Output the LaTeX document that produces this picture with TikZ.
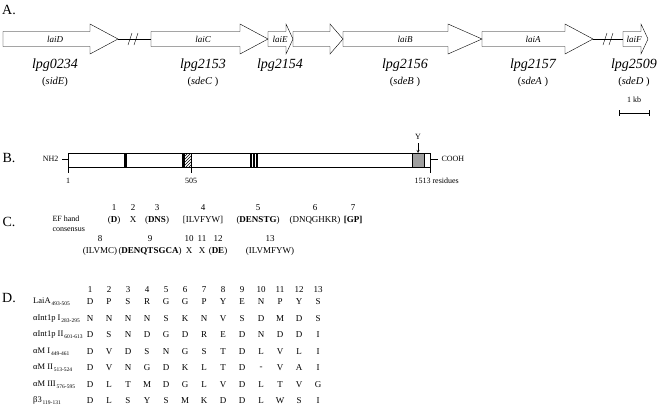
\documentclass[tikz,border=0pt]{standalone}
\usepackage{fontspec}
\setmainfont{Liberation Serif}
\usetikzlibrary{patterns}
\newcommand{\rng}[1]{\raisebox{-0.5ex}{\fontsize{5.5}{5.5}\selectfont\,#1}}
\tikzset{
  panel/.style={font=\fontsize{14}{14}\selectfont},
  genename/.style={font=\fontsize{9}{9}\selectfont\itshape, inner sep=0pt},
  locus/.style={font=\fontsize{14}{14}\selectfont\itshape},
  aliasname/.style={font=\fontsize{10.5}{10.5}\selectfont},
  smalltext/.style={font=\fontsize{8}{8}\selectfont},
  cons/.style={font=\fontsize{9}{9}\selectfont, inner sep=0pt},
  res/.style={font=\fontsize{9}{9}\selectfont, inner sep=0pt},
}
\begin{document}
\begin{tikzpicture}[x=1pt, y=-1pt, >=stealth]
    \useasboundingbox (0,0) rectangle (658,413);
    % A. gene map
    \node[panel] (pa) at (9,10) {A.};
    \foreach \a/\h/\b in {3/90/118, 151/240/268, 268/286/293, 293/330/343, 343/448/482, 482/565/593, 623/641/648}
        \draw (\a,31.5) -- (\h,31.5) -- (\h,24) -- (\b,39) -- (\h,54) -- (\h,46.5) -- (\a,46.5) -- cycle;
    \draw (118,39) -- (151,39);
    \draw (128,45) -- (132,33) (134,45) -- (138,33);
    \draw (593,39) -- (623,39);
    \draw (603,45) -- (607,33) (609,45) -- (613,33);
    \foreach \x/\g/\l/\s in {55/laiD/lpg0234/{(\textit{sidE})}, 203/laiC/lpg2153/{(\textit{sdeC} )},
                             280/laiE/lpg2154/{}, 405/laiB/lpg2156/{(\textit{sdeB} )},
                             533/laiA/lpg2157/{(\textit{sdeA} )}, 634/laiF/lpg2509/{(\textit{sdeD} )}} {
        \node[genename] (g-\g) at (\x,39) {\g};
        \node[locus] (l-\g) at (\x,65) {\l};
        \node[aliasname] (s-\g) at (\x,82) {\s};
    }
    \node[smalltext] (kb) at (634,100) {1 kb};
    \draw (619,113) -- (649,113) (619,110) -- (619,116) (649,110) -- (649,116);
    % B. protein bar
    \node[panel] (pb) at (9,158) {B.};
    \node[smalltext, anchor=east] (nh) at (62,159) {NH2};
    \node[smalltext, anchor=west] (co) at (438,159) {COOH};
    \draw (nh) -- (68,159);
    \draw (430,159) -- (co);
    \draw (68,153) rectangle (430,167);
    \fill (124,153) rectangle (126.5,167);
    \fill (182,153) rectangle (184.5,167);
    \draw[pattern=north east lines] (184.5,153) rectangle (191,167);
    \foreach \x in {250,253,256}
        \fill (\x,153) rectangle (\x+1.6,167);
    \filldraw[fill=gray!75] (412,153) rectangle (424,167);
    \node[smalltext] (ty) at (418,137) {Y};
    \coordinate (tyend) at (418,153);
    \draw[->] (ty) -- (tyend);
    \foreach \x in {68,191,430}
        \draw (\x,167) -- (\x,173);
    \node[smalltext] (n1) at (68,181) {1};
    \node[smalltext] (n505) at (191,181) {505};
    \node[smalltext, anchor=west] (n1513) at (411,181) {1513 residues};
    % C. EF hand consensus
    \node[panel] (pc) at (9,222) {C.};
    \node[smalltext, anchor=west] (ef) at (49,219) {EF hand};
    \node[smalltext, anchor=west] (cs) at (49,230) {consensus};
    \foreach \x/\n/\t in {114/1/{(\textbf{D})}, 133/2/X, 157/3/{(\textbf{DNS})}, 203/4/{[ILVFYW]},
                          258/5/{(\textbf{DENSTG})}, 315/6/{(DNQGHKR)}, 353/7/{\textbf{[GP]}},
                          100/8/{(ILVMC)}, 150/9/{(\textbf{DENQTSGCA})}, 189/10/X, 202/11/X,
                          218/12/{(\textbf{DE})}, 270/13/{(ILVMFYW)}} {
        \ifnum\n<8 \def\yy{208}\else \def\yy{239}\fi
        \node[cons] (cn\n) at (\x,\yy) {\n};
        \node[cons] (ct\n) at (\x,\yy+12) {\t};
    }
    % D. alignment
    \node[panel] (pd) at (9,298) {D.};
    \foreach \i in {1,...,13}
        \node[res] (h\i) at (90+19*\i-19,290) {\i};
    \foreach \lab [count=\r] in {LaiA\rng{493-505}, αInt1p I\rng{283-295}, αInt1p II\rng{601-613},
                                 αM I\rng{449-461}, αM II\rng{513-524}, αM III\rng{576-595},
                                 β3\rng{119-131}}
        \node[font=\fontsize{8.5}{8.5}\selectfont, anchor=west, inner sep=0pt] (lab\r) at (33,302+16.5*\r-16.5) {\lab};
    \foreach \seq [count=\r] in {{D,P,S,R,G,G,P,Y,E,N,P,Y,S}, {N,N,N,N,S,K,N,V,S,D,M,D,S},
                                 {D,S,N,D,G,D,R,E,D,N,D,D,I}, {D,V,D,S,N,G,S,T,D,L,V,L,I},
                                 {D,V,N,G,D,K,L,T,D,-,V,A,I}, {D,L,T,M,D,G,L,V,D,L,T,V,G},
                                 {D,L,S,Y,S,M,K,D,D,L,W,S,I}}
        \foreach \c [count=\i] in \seq
            \node[res] (a\r-\i) at (90+19*\i-19,302+16.5*\r-16.5) {\c};
\end{tikzpicture}
\end{document}
